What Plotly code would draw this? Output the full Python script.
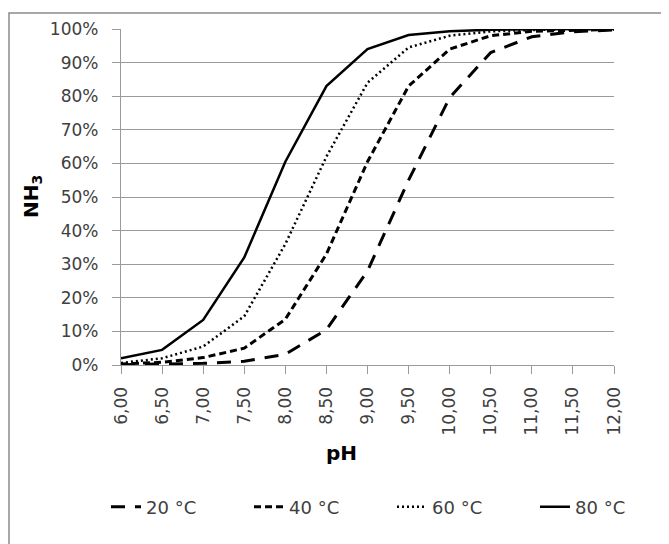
import plotly.graph_objects as go

ph = [6.0, 6.5, 7.0, 7.5, 8.0, 8.5, 9.0, 9.5, 10.0, 10.5, 11.0, 11.5, 12.0]
ph_labels = ["6,00", "6,50", "7,00", "7,50", "8,00", "8,50", "9,00", "9,50",
             "10,00", "10,50", "11,00", "11,50", "12,00"]

nh3_20 = [0.001, 0.003, 0.005, 0.011, 0.032, 0.105, 0.28, 0.55, 0.796, 0.93, 0.977, 0.992, 0.997]
nh3_40 = [0.003, 0.008, 0.022, 0.05, 0.136, 0.33, 0.605, 0.83, 0.94, 0.98, 0.993, 0.997, 0.999]
nh3_60 = [0.006, 0.02, 0.055, 0.145, 0.36, 0.62, 0.84, 0.945, 0.98, 0.993, 0.997, 0.999, 1.0]
nh3_80 = [0.02, 0.045, 0.134, 0.32, 0.605, 0.83, 0.94, 0.982, 0.993, 0.998, 0.999, 1.0, 1.0]

series_names = ["20 °C", "40 °C", "60 °C", "80 °C"]

FONT = "DejaVu Sans"
GRID = "#9a9a9a"

fig = go.Figure()
styles = [
    dict(dash="14px,10px", width=3),
    dict(dash="7px,4px", width=3),
    dict(dash="2px,3px", width=2.5),
    dict(dash="solid", width=2.5),
]
for name, vals, st in zip(series_names, [nh3_20, nh3_40, nh3_60, nh3_80], styles):
    fig.add_trace(go.Scatter(x=ph, y=vals, mode="lines", name=name,
                             line=dict(color="#000000", **st)))

# page body has an 8px margin; work in figure coordinates = reference - 8
OFF = 8
W, H = 669 - OFF, 544 - OFF
L, R, T, B = 121 - OFF, 614 - OFF, 29 - OFF, 365 - OFF
pw, phh = R - L, B - T

def px(x):
    return (x - OFF - L) / pw

def py(y):
    return (B - (y - OFF)) / phh

fig.update_layout(
    width=W, height=H,
    margin=dict(l=L, r=W - R, t=T, b=H - B, autoexpand=False),
    paper_bgcolor="white", plot_bgcolor="white",
    font=dict(family=FONT, size=17, color="#404040"),
    showlegend=True,
    legend=dict(orientation="h", x=px(106), xanchor="left", y=py(507), yanchor="middle",
                font=dict(family=FONT, size=18, color="#404040"),
                entrywidth=98, entrywidthmode="pixels", traceorder="normal",
                itemwidth=30, bgcolor="rgba(0,0,0,0)"),
    xaxis=dict(range=[6, 12], tickmode="array", tickvals=ph, ticktext=ph_labels,
               tickangle=-90, ticks="outside", ticklen=8, tickcolor=GRID, tickwidth=1.3,
               showline=True, linecolor=GRID, linewidth=1.3, showgrid=False,
               zeroline=False, ticklabelstandoff=6,
               tickfont=dict(family=FONT, size=17, color="#404040")),
    yaxis=dict(range=[0, 1], dtick=0.1, tickformat=".0%", ticks="outside", ticklen=8,
               tickcolor=GRID, tickwidth=1.3, showline=True, linecolor=GRID, linewidth=1.3,
               showgrid=True, gridcolor=GRID, gridwidth=1.3, zeroline=False,
               ticklabelstandoff=10,
               tickfont=dict(family=FONT, size=17, color="#404040")),
    annotations=[
        dict(text="<b>pH</b>", x=px(341), y=py(453), xref="paper", yref="paper",
             showarrow=False, font=dict(family=FONT, size=20, color="#000000"),
             xanchor="center", yanchor="middle"),
        dict(text="<b>NH<sub>3</sub></b>", x=px(32), y=py(197), xref="paper", yref="paper",
             showarrow=False, textangle=-90, font=dict(family=FONT, size=20, color="#000000"),
             xanchor="center", yanchor="middle"),
    ],
    shapes=[
        dict(type="rect", xref="paper", yref="paper", x0=px(9), x1=px(700), y0=py(580), y1=py(13),
             line=dict(color="#8c8c8c", width=1.5), fillcolor="rgba(0,0,0,0)", layer="below"),
    ],
)

fig.write_html("out.html")
